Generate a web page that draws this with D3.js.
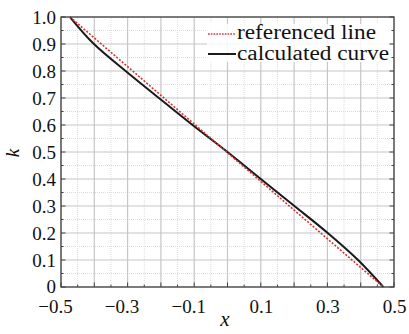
<!DOCTYPE html>
<html>
<head>
<meta charset="utf-8">
<script src="https://cdn.jsdelivr.net/npm/d3@7"></script>
<style>
  body { margin: 0; background: #fff; }
  svg { display: block; }
  svg text { font-family: "Liberation Serif", "DejaVu Serif", "Times New Roman", serif; }
</style>
</head>
<body>
<svg id="chart"></svg>
<script>
/* DATA */
const kLevels = [1.0, 0.9, 0.8, 0.7, 0.6, 0.5, 0.4, 0.3, 0.2, 0.1, 0.0];
const calcX = [-0.473, -0.401, -0.306, -0.206, -0.105, 0.0, 0.100, 0.201, 0.301, 0.392, 0.468];
const refX = [-0.473, 0.468];
const refK = [1.0, 0.0];
const xLabelTicks = [-0.5, -0.3, -0.1, 0.1, 0.3, 0.5];
const yLabelTicks = [0, 0.1, 0.2, 0.3, 0.4, 0.5, 0.6, 0.7, 0.8, 0.9, 1.0];
const legendNames = ["referenced line", "calculated curve"];
const legendWidths = [139, 152];

/* CONSTANTS */
const width = 409, height = 334;
const margin = { top: 17, right: 15, bottom: 47, left: 61 };
const fontSize = 19;

const svg = d3.select("#chart").attr("width", width).attr("height", height);

/* SCALES */
const xScale = d3.scaleLinear().domain([-0.5, 0.5]).range([margin.left, width - margin.right]);
const yScale = d3.scaleLinear().domain([0, 1]).range([height - margin.bottom, margin.top]);

const x0 = xScale.range()[0], x1 = xScale.range()[1];
const y0 = yScale.range()[0], y1 = yScale.range()[1];

// tick positions every 0.05
const xAll = d3.range(0, 21).map(i => +(-0.5 + i * 0.05).toFixed(2));
const yAll = d3.range(0, 21).map(i => +(i * 0.05).toFixed(2));
const isMajor = v => Math.abs(Math.round(v * 10) - v * 10) < 1e-6;

/* GRID */
const grid = svg.append("g");
grid.selectAll(".vminor").data(xAll.filter(v => !isMajor(v))).join("line")
  .attr("x1", d => xScale(d)).attr("x2", d => xScale(d))
  .attr("y1", y0).attr("y2", y1)
  .attr("stroke", "#dcdcdc").attr("stroke-width", 1).attr("stroke-dasharray", "1,1");
grid.selectAll(".hminor").data(yAll.filter(v => !isMajor(v))).join("line")
  .attr("y1", d => yScale(d)).attr("y2", d => yScale(d))
  .attr("x1", x0).attr("x2", x1)
  .attr("stroke", "#dcdcdc").attr("stroke-width", 1).attr("stroke-dasharray", "1,1");
grid.selectAll(".vmajor").data(xAll.filter(isMajor)).join("line")
  .attr("x1", d => xScale(d)).attr("x2", d => xScale(d))
  .attr("y1", y0).attr("y2", y1)
  .attr("stroke", "#c6c6c6").attr("stroke-width", 1.2);
grid.selectAll(".hmajor").data(yAll.filter(isMajor)).join("line")
  .attr("y1", d => yScale(d)).attr("y2", d => yScale(d))
  .attr("x1", x0).attr("x2", x1)
  .attr("stroke", "#c6c6c6").attr("stroke-width", 1.2);

/* LEGEND BACKGROUND */
svg.append("rect")
  .attr("x", 207).attr("y", 24).attr("width", 183).attr("height", 38)
  .attr("fill", "#fff").attr("opacity", 0.85);

/* LINES */
const refData = refX.map((x, i) => ({ x, k: refK[i] }));
const calcData = calcX.map((x, i) => ({ x, k: kLevels[i] }));

svg.append("path").datum(calcData)
  .attr("fill", "none").attr("stroke", "#1a1a1a").attr("stroke-width", 2)
  .attr("d", d3.line().x(d => xScale(d.x)).y(d => yScale(d.k)).curve(d3.curveMonotoneY));

svg.append("path").datum(refData)
  .attr("fill", "none").attr("stroke", "#d9302c").attr("stroke-width", 1.6)
  .attr("stroke-dasharray", "2,1.6")
  .attr("d", d3.line().x(d => xScale(d.x)).y(d => yScale(d.k)));

/* AXES: inward ticks */
const tickLen = v => isMajor(v) ? 4.5 : 2.5;
const ticks = svg.append("g").attr("stroke", "#444").attr("stroke-width", 1);
ticks.selectAll(".bt").data(xAll).join("line")
  .attr("x1", d => xScale(d)).attr("x2", d => xScale(d))
  .attr("y1", y0).attr("y2", d => y0 - tickLen(d));
ticks.selectAll(".lt").data(yAll).join("line")
  .attr("y1", d => yScale(d)).attr("y2", d => yScale(d))
  .attr("x1", x0).attr("x2", d => x0 + tickLen(d));
ticks.selectAll(".rt").data(yAll).join("line")
  .attr("y1", d => yScale(d)).attr("y2", d => yScale(d))
  .attr("x1", x1).attr("x2", d => x1 - tickLen(d));

// frame
svg.append("rect")
  .attr("x", x0).attr("y", y1).attr("width", x1 - x0).attr("height", y0 - y1)
  .attr("fill", "none").attr("stroke", "#444").attr("stroke-width", 1.3);

// tick labels via d3 axes
const xAxis = d3.axisBottom(xScale).tickValues(xLabelTicks).tickSize(0).tickPadding(13)
  .tickFormat(d => d3.format(".1f")(d).replace("-", "\u2212"));
const gx = svg.append("g").attr("transform", `translate(0,${y0})`).call(xAxis)
  .attr("font-family", null);
gx.select(".domain").remove();
gx.selectAll("text").attr("font-size", fontSize).attr("fill", "#111")
  .attr("dx", d => d < 0 ? -6 : 0);

const yAxis = d3.axisLeft(yScale).tickValues(yLabelTicks).tickSize(0).tickPadding(5)
  .tickFormat(d => d === 0 ? "0" : d3.format(".1f")(d));
const gy = svg.append("g").attr("transform", `translate(${x0},0)`).call(yAxis)
  .attr("font-family", null);
gy.select(".domain").remove();
gy.selectAll("text").attr("font-size", fontSize).attr("fill", "#111")
  .attr("dy", d => d === 0 ? "0.3em" : "0.34em");

/* AXIS TITLES */
svg.append("text")
  .attr("x", 225).attr("y", 326)
  .attr("text-anchor", "middle").attr("font-style", "italic").attr("font-size", 21).attr("fill", "#111")
  .text("x");
svg.append("text")
  .attr("transform", "translate(19,153) rotate(-90)")
  .attr("text-anchor", "middle").attr("font-style", "italic").attr("font-size", 19).attr("fill", "#111")
  .text("k");

/* LEGEND */
const legend = svg.append("g");
legendNames.forEach((name, i) => {
  const ly = 39 + i * 21;
  legend.append("line")
    .attr("x1", 208).attr("x2", 236)
    .attr("y1", ly - 5 - i * 1).attr("y2", ly - 5 - i * 1)
    .attr("stroke", i === 0 ? "#d9302c" : "#1a1a1a")
    .attr("stroke-width", i === 0 ? 1.4 : 2)
    .attr("stroke-dasharray", i === 0 ? "1.6,1.2" : null);
  legend.append("text")
    .attr("x", 237).attr("y", ly)
    .attr("font-size", fontSize + 1).attr("fill", "#111")
    .attr("textLength", legendWidths[i]).attr("lengthAdjust", "spacingAndGlyphs")
    .text(name);
});
</script>
</body>
</html>
